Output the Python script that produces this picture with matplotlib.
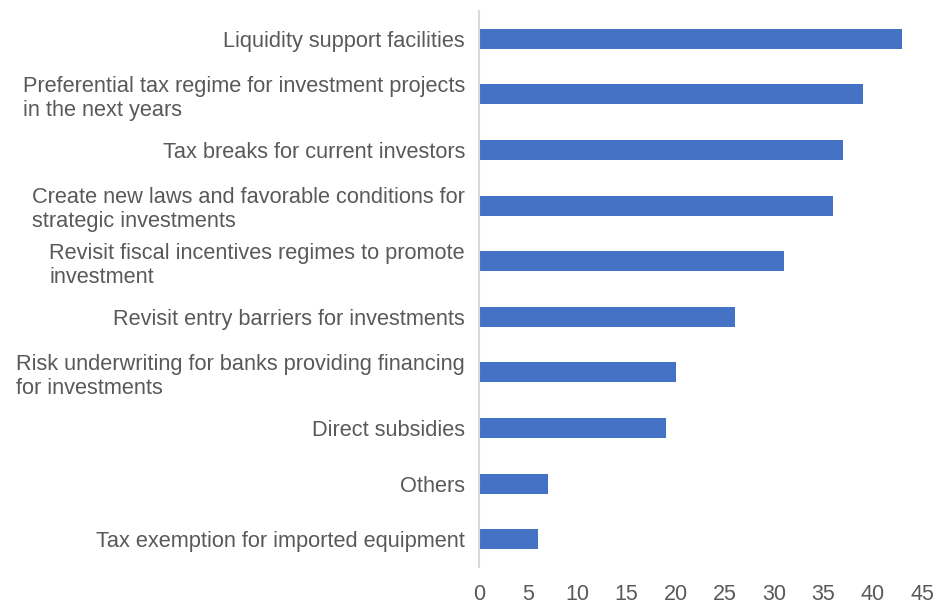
import matplotlib.pyplot as plt

# data, top to bottom as in the chart
labels = [
    'Liquidity support facilities',
    'Preferential tax regime for investment projects\nin the next years',
    'Tax breaks for current investors',
    'Create new laws and favorable conditions for\nstrategic investments',
    'Revisit fiscal incentives regimes to promote\ninvestment',
    'Revisit entry barriers for investments',
    'Risk underwriting for banks providing financing\nfor investments',
    'Direct subsidies',
    'Others',
    'Tax exemption for imported equipment',
]
values = [43, 39, 37, 36, 31, 26, 20, 19, 7, 6]
xticks = [0, 5, 10, 15, 20, 25, 30, 35, 40, 45]

plt.rcParams['font.family'] = ['Liberation Sans', 'DejaVu Sans']
text_color = '#595959'

fig = plt.figure(figsize=(9.37, 6.06), dpi=100)
ax = fig.add_axes([0.5112, 0.0644, 0.4728, 0.9174])

pos = list(range(len(labels)))
ax.barh(pos, values, height=0.36, color='#4472C4')
ax.set_ylim(len(labels) - 0.5, -0.5)
ax.set_xlim(0, 45)
ax.set_xticks(xticks)
ax.set_yticks(pos)
ax.set_yticklabels(labels, fontsize=15.7, color=text_color, linespacing=1.2)
for t in ax.get_yticklabels():
    t.set_multialignment('left')
ax.tick_params(axis='x', length=0, pad=12, labelsize=15.5, labelcolor=text_color)
ax.tick_params(axis='y', length=0, pad=10)

for s in ['top', 'right', 'bottom']:
    ax.spines[s].set_visible(False)
ax.spines['left'].set_color('#D9D9D9')
ax.spines['left'].set_linewidth(1.5)

plt.savefig('out.png', dpi=100)
